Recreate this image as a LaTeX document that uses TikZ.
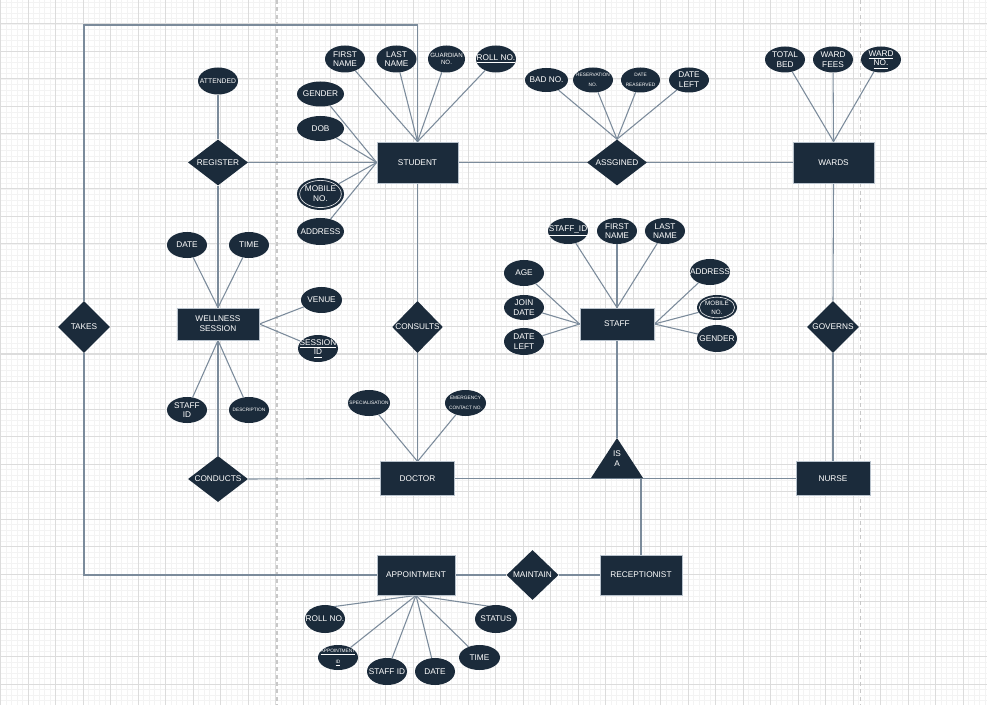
\documentclass[tikz,border=0pt]{standalone}
\usepackage{fontspec}
\setmainfont{Liberation Sans}
\usetikzlibrary{shapes.geometric}
\definecolor{nfill}{HTML}{1B2B3B}
\definecolor{lncol}{HTML}{7B8B9B}
\definecolor{gmaj}{HTML}{DCDCDC}
\definecolor{gmin}{HTML}{F3F3F3}
\definecolor{bord}{HTML}{B8C2CC}
\definecolor{dcol}{HTML}{C8C8C8}
\pgfdeclarelayer{gridlayer}
\pgfdeclarelayer{linelayer}
\pgfsetlayers{gridlayer,linelayer,main}
\begin{document}
\begin{tikzpicture}[x=0.75pt,y=-0.75pt,
  ent/.style={rectangle, fill=nfill, draw=bord, line width=0.6pt, text=white, inner sep=0pt, align=center, font=\fontsize{6.2}{7.5}\selectfont},
  rel/.style={diamond, fill=nfill, inner sep=0pt},
  att/.style={ellipse, fill=nfill, inner sep=0pt, minimum width=30pt, minimum height=19.5pt},
  lab/.style={text=white, align=center, inner sep=0pt, font=\fontsize{6.2}{7.3}\selectfont},
  tinyf/.style={font=\fontsize{3.6}{8}\selectfont},
  smf/.style={font=\fontsize{4.6}{5.8}\selectfont},
  ln/.style={draw=lncol, line width=0.8pt},
  dline/.style={draw=dcol, line width=1pt, dash pattern=on 3pt off 2.5pt},
  ring/.style={draw=white!85!nfill, line width=0.5pt}
]
\useasboundingbox (0,0) rectangle (987,705);
\begin{pgfonlayer}{gridlayer}
  \fill[white] (0,0) rectangle (987,705);
  \foreach \k in {0,...,179} \draw[gmin, line width=0.5pt] ({0.8+5.5*\k},0) -- ({0.8+5.5*\k},705);
  \foreach \k in {0,...,128} \draw[gmin, line width=0.5pt] (0,{2+5.5*\k}) -- (987,{2+5.5*\k});
  \foreach \k in {0,...,35} \draw[gmaj, line width=0.75pt] ({0.8+27.5*\k},0) -- ({0.8+27.5*\k},705);
  \foreach \k in {0,...,24} \draw[gmaj, line width=0.75pt] (0,{24+27.5*\k}) -- (987,{24+27.5*\k});
  \draw[dline] (277,0) -- (277,705);
  \draw[dline] (860.5,0) -- (860.5,705);
\end{pgfonlayer}

% entities
\node[ent, minimum width=60.75pt, minimum height=30.75pt] (student) at (417.5,162.5) {STUDENT};
\node[ent, minimum width=60.75pt, minimum height=30.75pt] (wards) at (833.5,162.5) {WARDS};
\node[ent, minimum width=55.5pt, minimum height=24pt] (staff) at (617,324) {STAFF};
\node[ent, minimum width=61.5pt, minimum height=24pt] (wellness) at (218,324) {WELLNESS\\SESSION};
\node[ent, minimum width=55pt, minimum height=25pt] (doctor) at (417.5,478.5) {DOCTOR};
\node[ent, minimum width=55.5pt, minimum height=25pt] (nurse) at (833,478.5) {NURSE};
\node[ent, minimum width=58.5pt, minimum height=30pt] (appt) at (416,575) {APPOINTMENT};
\node[ent, minimum width=61.5pt, minimum height=30pt] (recep) at (641,575) {RECEPTIONIST};

% relationships
\node[rel, minimum width=45pt, minimum height=34.5pt, label={[lab]center:REGISTER}] (register) at (218,162.5) {};
\node[rel, minimum width=45pt, minimum height=34.5pt, label={[lab]center:ASSGINED}] (assgined) at (617,162.5) {};
\node[rel, minimum width=38pt, minimum height=39pt, label={[lab]center:CONSULTS}] (consults) at (417.5,327) {};
\node[rel, minimum width=39pt, minimum height=39pt, label={[lab]center:TAKES}] (takes) at (84,327) {};
\node[rel, minimum width=39pt, minimum height=39pt, label={[lab]center:GOVERNS}] (governs) at (833,327) {};
\node[rel, minimum width=45pt, minimum height=34.5pt, label={[lab]center:CONDUCTS}] (conducts) at (218,479) {};
\node[rel, minimum width=39pt, minimum height=37.5pt, label={[lab]center:MAINTAIN}] (maintain) at (532.5,575) {};

% ISA triangle
\coordinate (isatop) at (617,438);
\coordinate (isal) at (591,478);
\coordinate (isar) at (643,478);
\coordinate (isadown) at (641,478);
\fill[nfill] (isatop) -- (isal) -- (isar) -- cycle;
\node[lab, font=\fontsize{6.2}{7.5}\selectfont] (isatxt) at (617,459) {IS\\A};

% student attributes
\node[att, minimum height=20.25pt, label={[lab]center:{FIRST\\NAME}}] (sfn) at (345,59) {};
\node[att, minimum height=20.25pt, label={[lab]center:{LAST\\NAME}}] (sln) at (396.5,59) {};
\node[att, minimum width=27.75pt, minimum height=20.25pt, label={[lab,smf]center:{GUARDIAN\\NO.}}] (sgn) at (446.5,59) {};
\node[att, minimum height=20.25pt, label={[lab]center:{\underline{ROLL NO.}}}] (sroll) at (496,59) {};
\node[att, minimum width=35.25pt, minimum height=18.75pt, label={[lab]center:GENDER}] (sgen) at (320.5,94) {};
\node[att, minimum width=35.25pt, minimum height=18.75pt, label={[lab]center:DOB}] (sdob) at (320.5,128.5) {};
\node[att, minimum width=35.25pt, minimum height=24pt, label={[lab]center:{MOBILE\\NO.}}] (smob) at (320.5,194) {};
\draw[ring] (smob.center) ellipse (15.6pt and 10.2pt);
\node[att, minimum width=35.25pt, minimum height=20.25pt, label={[lab]center:ADDRESS}] (saddr) at (320.5,231.5) {};

% assgined attributes
\node[att, minimum width=32.25pt, minimum height=18pt, label={[lab]center:{BAD NO.}}] (abad) at (546.5,80) {};
\node[att, minimum height=18.75pt, label={[lab,tinyf]center:{RESERVATION\\NO.}}] (ares) at (593,80) {};
\node[att, minimum width=29.25pt, minimum height=18.75pt, label={[lab,tinyf]center:{DATE\\REASERVED}}] (adr) at (640.5,80) {};
\node[att, minimum height=18.75pt, label={[lab]center:{DATE\\LEFT}}] (adl) at (689,80) {};

% wards attributes
\node[att, label={[lab]center:{TOTAL\\BED}}] (wtb) at (785,59.5) {};
\node[att, label={[lab]center:{WARD\\FEES}}] (wfee) at (833,59.5) {};
\node[att, label={[lab]center:{\underline{WARD}\\\underline{NO.}}}] (wno) at (881,59.5) {};

% register attribute
\node[att, minimum height=20.25pt, label={[lab,font=\fontsize{5.1}{6}\selectfont]center:ATTENDED}] (attended) at (218,81) {};

% wellness attributes
\node[att, label={[lab]center:DATE}] (wdate) at (187,245) {};
\node[att, label={[lab]center:TIME}] (wtime) at (249,245) {};
\node[att, minimum width=30.75pt, label={[lab]center:VENUE}] (wven) at (321.5,300) {};
\node[att, minimum height=20.25pt, label={[lab]center:{\underline{SESSION}\\\underline{ID}}}] (wsid) at (318,348.5) {};
\node[att, label={[lab]center:{STAFF\\ID}}] (wstaff) at (187,410) {};
\node[att, label={[lab,tinyf]center:DESCRIPTION}] (wdesc) at (249,410) {};

% staff attributes
\node[att, label={[lab]center:{\underline{STAFF\_ID}}}] (tsid) at (568,231) {};
\node[att, label={[lab]center:{FIRST\\NAME}}] (tfn) at (617,231) {};
\node[att, label={[lab]center:{LAST\\NAME}}] (tln) at (665,231) {};
\node[att, label={[lab]center:AGE}] (tage) at (524,273) {};
\node[att, minimum height=18.75pt, label={[lab]center:{JOIN\\DATE}}] (tjoin) at (524,307.5) {};
\node[att, minimum height=20.25pt, label={[lab]center:{DATE\\LEFT}}] (tleft) at (524,341.5) {};
\node[att, label={[lab]center:ADDRESS}] (taddr) at (710,272) {};
\node[att, minimum height=18.75pt, label={[lab,font=\fontsize{4.7}{6.7}\selectfont]center:{MOBILE\\NO.}}] (tmob) at (717,307.5) {};
\draw[ring] (tmob.center) ellipse (13.2pt and 7.7pt);
\node[att, minimum height=20.25pt, label={[lab]center:GENDER}] (tgen) at (717,338.5) {};

% doctor attributes
\node[att, minimum width=31.5pt, label={[lab,tinyf]center:SPECIALISATION}] (dspec) at (369,403) {};
\node[att, minimum width=30.75pt, label={[lab,tinyf]center:{EMERGENCY\\CONTACT NO.}}] (demer) at (465.5,403) {};

% appointment attributes
\node[att, minimum height=21pt, label={[lab]center:{ROLL NO.}}] (proll) at (325,619) {};
\node[att, minimum width=31.5pt, minimum height=21pt, label={[lab]center:STATUS}] (pstat) at (496,619) {};
\node[att, minimum height=18.75pt, label={[lab,tinyf]center:{\underline{APPOINTMENT}\\\underline{ID}}}] (pid) at (338,657.5) {};
\node[att, minimum height=20.25pt, label={[lab]center:{STAFF ID}}] (pstaff) at (387,671.5) {};
\node[att, minimum height=20.25pt, label={[lab]center:DATE}] (pdate) at (435,671.5) {};
\node[att, minimum width=30.75pt, minimum height=18.75pt, label={[lab]center:TIME}] (ptime) at (479.5,657.5) {};

\coordinate (topl) at (84,25);
\coordinate (topr) at (417.5,25);

\begin{pgfonlayer}{linelayer}
  % main structure
  \draw[ln] (takes.north) -- (topl) -- (topr) -- (student.north);
  \draw[ln] (takes.south) |- (appt.west);
  \draw[ln] (attended) -- (register.north);
  \draw[ln] (register.east) -- (student.west);
  \draw[ln] (register.south) -- (wellness.north);
  \draw[ln] (wellness.south) -- (conducts.north);
  \draw[ln] (conducts.east) -- (doctor.west);
  \draw[ln] (student.south) -- (consults.north);
  \draw[ln] (consults.south) -- (doctor.north);
  \draw[ln] (student.east) -- (assgined.west);
  \draw[ln] (assgined.east) -- (wards.west);
  \draw[ln] (wards.south) -- (governs.north);
  \draw[ln] (governs.south) -- (nurse.north);
  \draw[ln] (doctor.east) -- (nurse.west);
  \draw[ln] (staff.south) -- (isatop);
  \draw[ln] (isadown) -- (recep.north);
  \draw[ln] (appt.east) -- (maintain.west);
  \draw[ln] (maintain.east) -- (recep.west);
  % student attributes
  \foreach \a in {sfn,sln,sgn,sroll} \draw[ln] (\a) -- (student.north);
  \foreach \a in {sgen,sdob,smob,saddr} \draw[ln] (\a) -- (student.west);
  % assgined attributes
  \foreach \a in {abad,ares,adr,adl} \draw[ln] (\a) -- (assgined.north);
  % wards attributes
  \foreach \a in {wtb,wfee,wno} \draw[ln] (\a) -- (wards.north);
  % wellness attributes
  \foreach \a in {wdate,wtime} \draw[ln] (\a) -- (wellness.north);
  \foreach \a in {wstaff,wdesc} \draw[ln] (\a) -- (wellness.south);
  \foreach \a in {wven,wsid} \draw[ln] (\a) -- (wellness.east);
  % staff attributes
  \foreach \a in {tsid,tfn,tln} \draw[ln] (\a) -- (staff.north);
  \foreach \a in {tage,tjoin,tleft} \draw[ln] (\a) -- (staff.west);
  \foreach \a in {taddr,tmob,tgen} \draw[ln] (\a) -- (staff.east);
  % doctor attributes
  \foreach \a in {dspec,demer} \draw[ln] (\a) -- (doctor.north);
  % appointment attributes
  \draw[ln] (proll.150) -- (appt.south);
  \draw[ln] (pstat.30) -- (appt.south);
  \foreach \a in {pid,pstaff,pdate,ptime} \draw[ln] (\a) -- (appt.south);
\end{pgfonlayer}
\end{tikzpicture}
\end{document}
